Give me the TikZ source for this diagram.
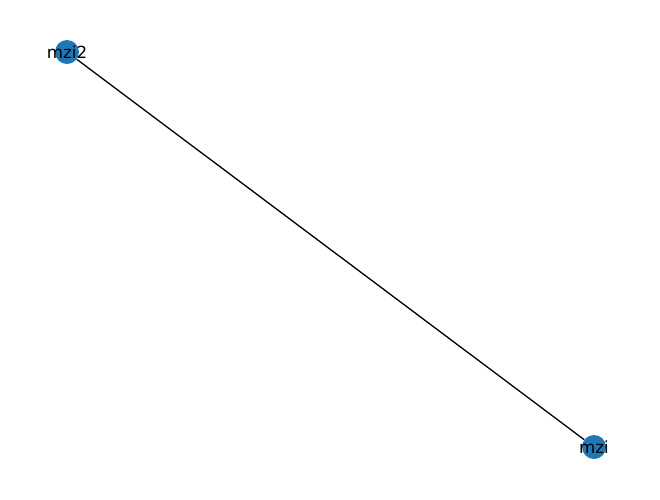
\documentclass[tikz,border=0pt]{standalone}
\usepackage{fontspec}
\setmainfont{DejaVu Sans}
\usepackage{xcolor}
\usepackage{tikz}
\definecolor{nodeblue}{HTML}{1F77B4}

\begin{document}
\begin{tikzpicture}[x=1pt, y=-1pt,
  vertex/.style={circle, fill=nodeblue, minimum size=24pt, inner sep=0pt},
  every label/.style={font=\fontsize{16.7}{18}\selectfont, inner sep=0pt}]
  \useasboundingbox (0,0) rectangle (660,499);
  \node[vertex, label=center:mzi2] (MZItwo) at (67,52) {};
  \node[vertex, label=center:mzi] (MZI) at (594,447) {};
  \draw[line width=1.3pt] (MZItwo) -- (MZI);
\end{tikzpicture}
\end{document}
